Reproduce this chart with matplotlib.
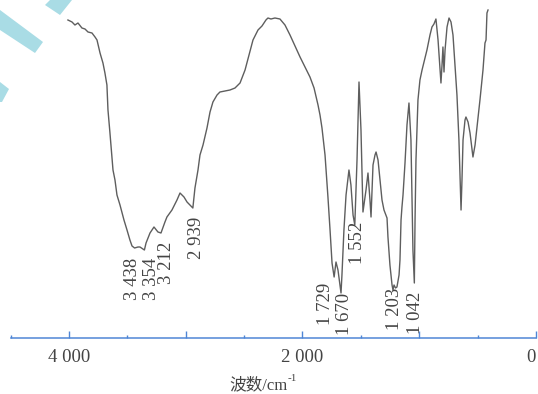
import matplotlib
matplotlib.use("Agg")
import matplotlib.pyplot as plt
from matplotlib.patches import Polygon
from matplotlib.ticker import FixedLocator, FixedFormatter

plt.rcParams['font.family'] = ['Liberation Serif', 'Noto Sans CJK SC']

# IR spectrum: wavenumber (cm-1) and transmittance (arbitrary units)
wavenumber = [4009, 3974, 3949, 3923, 3889, 3863, 3837, 3803, 3777, 3760, 3734, 3709, 3692,
              3675, 3666, 3649, 3623, 3606, 3589, 3563, 3529, 3503, 3478, 3460, 3438, 3409,
              3392, 3354, 3340, 3306, 3272, 3238, 3212, 3178, 3161, 3118, 3075, 3049, 3015,
              2989, 2939, 2921, 2895, 2878, 2852, 2818, 2792, 2767, 2732, 2707, 2664, 2621,
              2578, 2535, 2492, 2458, 2424, 2381, 2347, 2313, 2296, 2270, 2236, 2193, 2150,
              2107, 2064, 2021, 1979, 1936, 1901, 1867, 1850, 1833, 1807, 1782, 1764, 1747,
              1729, 1713, 1696, 1670, 1662, 1645, 1627, 1602, 1585, 1567, 1552, 1533, 1516,
              1499, 1482, 1456, 1439, 1422, 1413, 1396, 1379, 1370, 1353, 1336, 1319, 1302,
              1276, 1268, 1251, 1233, 1225, 1216, 1203, 1191, 1173, 1165, 1156, 1148, 1139,
              1122, 1105, 1088, 1071, 1062, 1054, 1042, 1036, 1028, 1011, 994, 976, 951, 934,
              908, 891, 874, 857, 839, 822, 814, 805, 797, 788, 779, 762, 745, 728, 711, 694,
              677, 660, 642, 634, 625, 608, 600, 582, 565, 540, 522, 505, 480, 454, 437, 428,
              420, 411]
transmittance = [318, 316, 313, 315, 310, 309, 306, 305, 301, 298, 285, 275, 265,
                 253, 228, 205, 168, 158, 143, 133, 118, 108, 98, 92, 90, 91,
                 91, 88, 95, 105, 111, 106, 105, 116, 121, 128, 138, 145, 141,
                 136, 130, 150, 168, 183, 193, 210, 226, 236, 243, 246, 247, 248,
                 250, 255, 268, 283, 298, 308, 312, 318, 320, 319, 320, 319, 313,
                 303, 292, 281, 271, 261, 250, 233, 223, 210, 183, 141, 108, 75,
                 61, 76, 68, 45, 63, 108, 143, 168, 153, 123, 113, 178, 256,
                 208, 126, 148, 165, 138, 121, 173, 183, 186, 178, 158, 138, 128,
                 120, 101, 73, 53, 48, 53, 50, 51, 63, 78, 118, 131, 143,
                 175, 213, 235, 198, 138, 88, 55, 118, 178, 238, 258, 268, 280, 288,
                 303, 311, 314, 319, 298, 268, 255, 273, 291, 266, 288, 311, 320, 316, 303,
                 273, 243, 198, 128, 158, 198, 218, 221, 216, 205, 181, 193, 211, 238, 268, 295,
                 298, 325, 328]

peak_labels = ["3 438", "3 354", "3 212", "2 939", "1 729", "1 670", "1 552", "1 203", "1 042"]
label_x = [3452, 3289, 3161, 2904, 1807, 1636, 1533, 1208, 1036]
label_top = [80, 80, 96, 121, 55, 45, 116, 50, 46]

tick_major = [4000, 3000, 2000, 1000, 0]
tick_major_labels = ["4 000", "", "2 000", "", "0"]
tick_minor = [4500, 3500, 2500, 1500, 500]
xlabel_main = "波数/cm"
xlabel_sup = "-1"

W, H = 538, 394
fig = plt.figure(figsize=(W / 100, H / 100), dpi=100)
ax = fig.add_axes([10.6 / W, 56 / H, (536 - 10.6) / W, 338 / H])
ax.set_xlim(4500, 0)
ax.set_ylim(0, 338)

ax.plot(wavenumber, transmittance, color='#5e5e5e', lw=1.0, solid_joinstyle='round')

for s in ['top', 'left', 'right']:
    ax.spines[s].set_visible(False)
ax.spines['bottom'].set_color('#4f86d6')
ax.spines['bottom'].set_linewidth(1.1)
ax.set_yticks([])
ax.xaxis.set_major_locator(FixedLocator(tick_major))
ax.xaxis.set_major_formatter(FixedFormatter(tick_major_labels))
ax.xaxis.set_minor_locator(FixedLocator(tick_minor))
ax.tick_params(axis='x', which='major', direction='in', length=5, width=1.0,
               color='#4f86d6', pad=8, labelsize=13.5, labelcolor='#444444')
ax.tick_params(axis='x', which='minor', direction='in', length=2.5, width=1.0,
               color='#4f86d6')
for t in ax.get_xticklabels():
    if t.get_text() == "0":
        t.set_ha('right')

for lab, x, yt in zip(peak_labels, label_x, label_top):
    ax.text(x, yt, lab, rotation=90, ha='center', va='top', fontsize=13.5,
            color='#444444')

main = fig.text(258 / W, 1 - 385 / H, xlabel_main, ha='center', va='center',
                fontsize=12, color='#444444')
ax.annotate(xlabel_sup, xy=(1.0, 0.62), xycoords=main, ha='left', va='bottom',
            fontsize=8, color='#444444')

# decorative cyan stripes in the upper-left corner
stripes = [
    [(45, 5), (60, 15), (72, 0), (50, 0)],
    [(0, 10), (43, 42), (35, 53), (0, 30)],
    [(0, 82), (9, 89), (2, 102), (0, 102)],
]
for pts in stripes:
    poly = Polygon([(x / W, 1 - y / H) for x, y in pts], closed=True,
                   transform=fig.transFigure, facecolor='#a9dce5', edgecolor='none')
    fig.patches.append(poly)

fig.savefig('out.png', dpi=100)
